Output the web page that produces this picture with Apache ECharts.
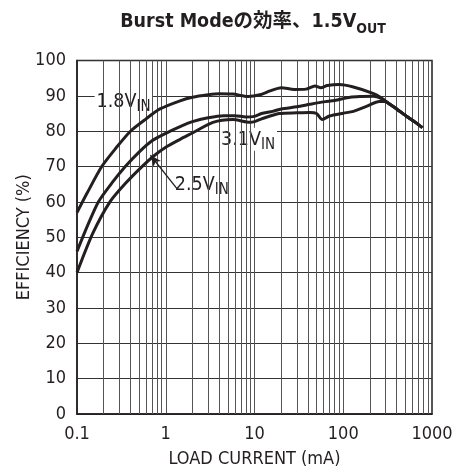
<!DOCTYPE html>
<html>
<head>
<meta charset="utf-8">
<script src="https://cdn.jsdelivr.net/npm/echarts@6/dist/echarts.min.js"></script>
<style>
  html, body { margin: 0; padding: 0; background: #fff; }
  #chart { width: 453px; height: 468px; }
</style>
</head>
<body>
<div id="chart"></div>
<script>
// Load current (mA) and efficiency (%) for each input voltage
const vin18Current = [0.1, 0.13, 0.19, 0.27, 0.4, 0.6, 0.86, 1.45, 2, 3, 4, 5.7, 8.5, 11.5, 15, 20, 28, 38, 48, 56, 66, 90, 130, 216, 270, 320, 400, 525, 650, 780];
const vin18Eff     = [57, 62.5, 70, 75, 80, 83.5, 86.3, 88.6, 89.6, 90.3, 90.6, 90.5, 89.8, 90.3, 91.4, 92.3, 91.8, 91.9, 92.8, 92.3, 92.9, 93.2, 92.5, 90.7, 89.4, 88.0, 86.3, 84.1, 82.5, 81];

const vin25Current = [0.1, 0.13, 0.174, 0.25, 0.35, 0.5, 0.7, 1.0, 1.45, 2, 3, 4.5, 6, 8, 10, 12, 16, 20, 30, 42, 60, 80, 120, 160, 220, 270, 320, 400, 525, 650, 780];
const vin25Eff     = [46, 53, 60, 65.5, 70, 74.1, 77.3, 79.4, 81.3, 82.7, 83.8, 84.4, 84.4, 84.0, 84.2, 85.0, 85.6, 86.3, 86.9, 87.6, 88.3, 88.7, 89.6, 89.8, 89.9, 89.2, 88.0, 86.3, 84.1, 82.5, 81];

const vin31Current = [0.1, 0.15, 0.235, 0.35, 0.54, 0.75, 1.02, 1.45, 2, 3.4, 5.7, 8.9, 10, 12, 19, 30, 42, 50, 58, 70, 100, 130, 185, 255, 290, 320, 400, 525, 650, 780];
const vin31Eff     = [40, 51, 60, 65.2, 70, 73.2, 75.6, 77.7, 79.5, 82.5, 83.3, 82.5, 82.7, 83.5, 85.0, 85.2, 85.3, 85.0, 83.3, 84.3, 85.1, 85.6, 87.1, 88.4, 88.4, 88.0, 86.3, 84.1, 82.5, 81];

// Axis ticks
const xTickValues = [0.1, 1, 10, 100, 1000];
const xTickLabels = ['0.1', '1', '10', '100', '1000'];
const yTickLabels = ['0', '10', '20', '30', '40', '50', '60', '70', '80', '90', '100'];

// Minor log gridlines: 2..9 within each decade
const decades = [0.1, 1, 10, 100];
const minorSteps = [2, 3, 4, 5, 6, 7, 8, 9];

// Curve annotations (text, subscript, anchor in data units)
const noteText = ['1.8V', '2.5V', '3.1V'];
const noteSub  = ['IN', 'IN', 'IN'];
const noteX    = [0.335, 2.55, 8.45];
const noteY    = [88.4, 65.0, 77.7];
const arrowFrom = [1.33, 63.8];
const arrowTo   = [0.672, 73.2];

// Pick the first narrow sans face that is actually installed
function pickFont(candidates) {
  const ctx = document.createElement('canvas').getContext('2d');
  const sample = 'LOAD CURRENT (mA) 0123456789';
  for (const f of candidates) {
    for (const base of ['monospace', 'serif']) {
      ctx.font = `18px ${base}`;
      const w0 = ctx.measureText(sample).width;
      ctx.font = `18px '${f}', ${base}`;
      if (Math.abs(ctx.measureText(sample).width - w0) > 0.5) return f;
    }
  }
  return 'Liberation Sans';
}
const BASE = pickFont(['Liberation Sans Narrow', 'Arial Narrow', 'Nimbus Sans Narrow', 'DejaVu Sans Condensed', 'Roboto Condensed', 'Liberation Sans']);
const FONT = `'${BASE}', 'Noto Sans CJK JP', sans-serif`;
const INK = '#231f20';

const toPairs = (xs, ys) => xs.map((x, i) => [x, ys[i]]);

const minorLines = [];
decades.forEach(d => minorSteps.forEach(m => minorLines.push({ xAxis: +(d * m).toPrecision(3) })));

const chart = echarts.init(document.getElementById('chart'), null, { renderer: 'canvas' });

const curve = (name, xs, ys) => ({
  name, type: 'line', data: toPairs(xs, ys), smooth: 0.25, showSymbol: false, symbol: 'none',
  lineStyle: { color: INK, width: 3 }, z: 5, silent: true, animation: false
});

const noteRich = {
  m: { fontFamily: FONT, fontSize: 19.5, color: INK, lineHeight: 20, verticalAlign: 'top', textBorderWidth: 0 },
  s: { fontFamily: FONT, fontSize: 15, color: INK, lineHeight: 14, padding: [8, 0, 0, 0], verticalAlign: 'top', textBorderWidth: 0 }
};

chart.setOption({
  animation: false,
  backgroundColor: '#fff',
  title: {
    text: '{m|Burst Modeの効率、1.5V}{s|OUT}',
    left: 248, top: 7, textAlign: 'center',
    textStyle: {
      rich: {
        m: { fontFamily: FONT, fontWeight: 'bold', fontSize: 19.5, color: INK, lineHeight: 21, verticalAlign: 'top' },
        s: { fontFamily: FONT, fontWeight: 'bold', fontSize: 14, color: INK, lineHeight: 14, padding: [10, 0, 0, 0], verticalAlign: 'top' }
      }
    }
  },
  grid: {
    left: 77, right: 21, top: 60.5, bottom: 54, outerBoundsMode: 'none', containLabel: false,
    show: true, borderColor: INK, borderWidth: 1.5, backgroundColor: 'transparent'
  },
  xAxis: {
    type: 'log', logBase: 10, min: 0.1, max: 1000,
    name: 'LOAD CURRENT (mA)', nameLocation: 'middle', nameGap: 36,
    nameTextStyle: { fontFamily: FONT, fontSize: 18, color: INK },
    axisLine: { show: true, lineStyle: { color: INK, width: 1.5 } },
    axisTick: { show: false },
    axisLabel: {
      fontFamily: FONT, fontSize: 18, color: INK, margin: 11,
      formatter: v => { const i = xTickValues.findIndex(t => Math.abs(Math.log10(t) - Math.log10(v)) < 1e-6); return i >= 0 ? xTickLabels[i] : ''; }
    },
    splitLine: { show: true, lineStyle: { color: '#555', width: 1 } }
  },
  yAxis: {
    type: 'value', min: 0, max: 100, interval: 10,
    name: 'EFFICIENCY (%)', nameLocation: 'middle', nameGap: 44, nameRotate: 90, nameMoveOverlap: false,
    nameTextStyle: { fontFamily: FONT, fontSize: 18, color: INK },
    axisLine: { show: true, lineStyle: { color: INK, width: 1.5 } },
    axisTick: { show: false },
    axisLabel: { fontFamily: FONT, fontSize: 18, color: INK, margin: 11, formatter: v => yTickLabels[Math.round(v / 10)] },
    splitLine: { show: true, lineStyle: { color: '#333', width: 1 } }
  },
  series: [
    {
      // minor log gridlines
      type: 'line', data: [], silent: true, z: 1,
      markLine: {
        silent: true, symbol: 'none', label: { show: false }, animation: false,
        lineStyle: { color: '#555', width: 1, type: 'solid' },
        data: minorLines
      }
    },
    {
      // curve annotations with white backing
      type: 'scatter', silent: true, z: 3, symbolSize: 0,
      itemStyle: { color: INK, opacity: 1 },
      data: noteText.map((t, i) => ({ value: [noteX[i], noteY[i]], t, s: noteSub[i] })),
      label: {
        show: true, position: 'inside', backgroundColor: '#fff', padding: [2, 2, 1, 2],
        color: INK, opacity: 1, textBorderWidth: 0, textBorderColor: 'transparent',
        formatter: p => `{m|${p.data.t}}{s|${p.data.s}}`,
        rich: noteRich
      },
      markLine: {
        silent: true, animation: false, label: { show: false },
        lineStyle: { color: INK, width: 1.3, type: 'solid', opacity: 1 },
        symbolSize: [7, 11],
        data: [[{ coord: arrowFrom, symbol: 'none' }, { coord: arrowTo, symbol: 'arrow' }]]
      }
    },
    curve('1.8V', vin18Current, vin18Eff),
    curve('2.5V', vin25Current, vin25Eff),
    curve('3.1V', vin31Current, vin31Eff)
  ]
});
</script>
</body>
</html>
